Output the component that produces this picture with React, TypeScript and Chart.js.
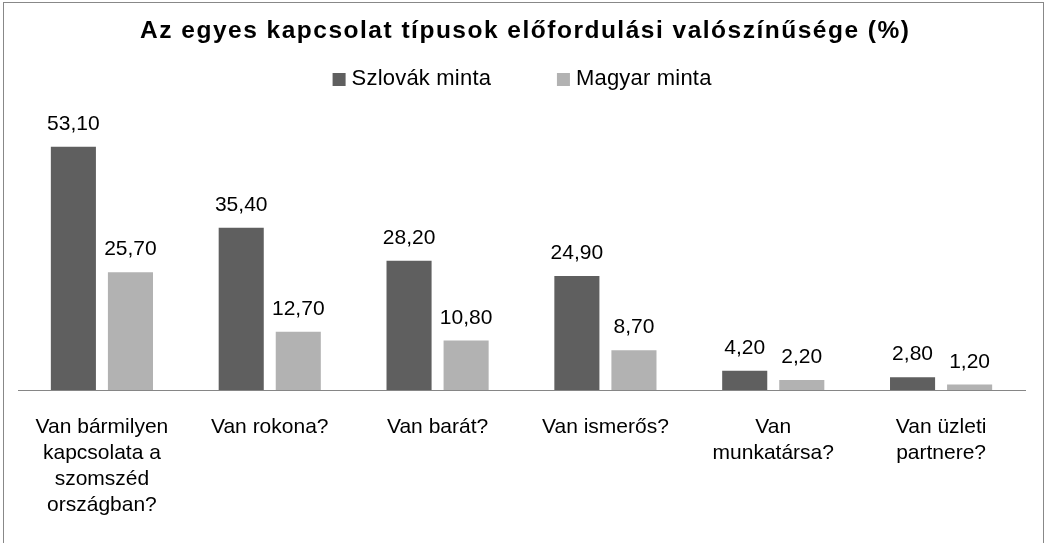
import React, { useEffect, useRef } from "react";
import { Chart, registerables } from "chart.js";

Chart.register(...registerables);

const TITLE = "Az egyes kapcsolat típusok előfordulási valószínűsége (%)";
const CATEGORIES: string[][] = [
  ["Van bármilyen", "kapcsolata a", "szomszéd", "országban?"],
  ["Van rokona?"],
  ["Van barát?"],
  ["Van ismerős?"],
  ["Van", "munkatársa?"],
  ["Van üzleti", "partnere?"],
];
const SERIES_NAMES = ["Szlovák minta", "Magyar minta"];
const SLOVAK = [53.1, 35.4, 28.2, 24.9, 4.2, 2.8];
const HUNGARIAN = [25.7, 12.7, 10.8, 8.7, 2.2, 1.2];
const Y_MAX = 60;

const COLORS = ["#5f5f5f", "#b2b2b2"];
const FONT = "'Liberation Sans', Arial, Helvetica, sans-serif";

const decorPlugin = {
  id: "decor",
  beforeDraw(chart: any) {
    const ctx = chart.ctx as CanvasRenderingContext2D;
    ctx.save();
    ctx.fillStyle = "#ffffff";
    ctx.fillRect(0, 0, chart.width, chart.height);
    ctx.strokeStyle = "#888888";
    ctx.lineWidth = 1;
    ctx.strokeRect(3.5, 2.5, 1040, 620);
    ctx.restore();
  },
  afterDraw(chart: any) {
    const ctx = chart.ctx as any;
    ctx.save();
    ctx.fillStyle = "#000000";
    ctx.textBaseline = "alphabetic";

    // Title
    const tSp = 1.5;
    ctx.font = `bold 24.5px ${FONT}`;
    ctx.letterSpacing = `${tSp}px`;
    ctx.textAlign = "left";
    const tw = ctx.measureText(TITLE).width - tSp;
    ctx.fillText(TITLE, 524.5 - tw / 2, 38);

    // Legend
    const lSp = 0.2;
    ctx.font = `22px ${FONT}`;
    ctx.letterSpacing = `${lSp}px`;
    const box = 13;
    const gapText = 6;
    const gapItems = 66;
    const widths = chart.data.datasets.map((ds: any) => ctx.measureText(ds.label).width - lSp);
    let total = 0;
    widths.forEach((w: number, i: number) => {
      total += box + gapText + w + (i < widths.length - 1 ? gapItems : 0);
    });
    let x = 522 - total / 2;
    chart.data.datasets.forEach((ds: any, i: number) => {
      ctx.fillStyle = ds.backgroundColor;
      ctx.fillRect(x, 73, box, box);
      ctx.fillStyle = "#000000";
      ctx.fillText(ds.label, x + box + gapText, 85);
      x += box + gapText + widths[i] + gapItems;
    });

    // Data labels
    ctx.letterSpacing = "0px";
    ctx.font = `21px ${FONT}`;
    ctx.textAlign = "center";
    chart.data.datasets.forEach((ds: any, i: number) => {
      const meta = chart.getDatasetMeta(i);
      meta.data.forEach((bar: any, j: number) => {
        const v = ds.data[j] as number;
        ctx.fillText(v.toFixed(2).replace(".", ","), bar.x, bar.y - 17);
      });
    });
    ctx.restore();
  },
};

export default function App() {
  const ref = useRef<HTMLCanvasElement | null>(null);

  useEffect(() => {
    if (!ref.current) return;
    const chart = new Chart(ref.current, {
      type: "bar",
      data: {
        labels: CATEGORIES,
        datasets: [
          {
            label: SERIES_NAMES[0],
            data: SLOVAK,
            backgroundColor: COLORS[0],
            barPercentage: 0.79,
            categoryPercentage: 0.68,
          },
          {
            label: SERIES_NAMES[1],
            data: HUNGARIAN,
            backgroundColor: COLORS[1],
            barPercentage: 0.79,
            categoryPercentage: 0.68,
          },
        ],
      },
      options: {
        responsive: false,
        animation: false,
        layout: { padding: { left: 18, right: 21, top: 115, bottom: 1 } },
        plugins: {
          legend: { display: false },
          title: { display: false },
          tooltip: { enabled: false },
        },
        scales: {
          x: {
            grid: { display: false, drawTicks: false },
            border: { display: true, color: "#868686", width: 1 },
            ticks: {
              color: "#000000",
              padding: 24,
              maxRotation: 0,
              minRotation: 0,
              autoSkip: false,
              font: { family: FONT, size: 21, lineHeight: 26 / 21 },
            },
          },
          y: {
            display: false,
            min: 0,
            max: Y_MAX,
          },
        },
      },
      plugins: [decorPlugin],
    });
    return () => chart.destroy();
  }, []);

  return (
    <div style={{ position: "absolute", left: 0, top: 0, width: 1046, height: 543 }}>
      <canvas ref={ref} width={1046} height={543} style={{ display: "block" }} />
    </div>
  );
}
